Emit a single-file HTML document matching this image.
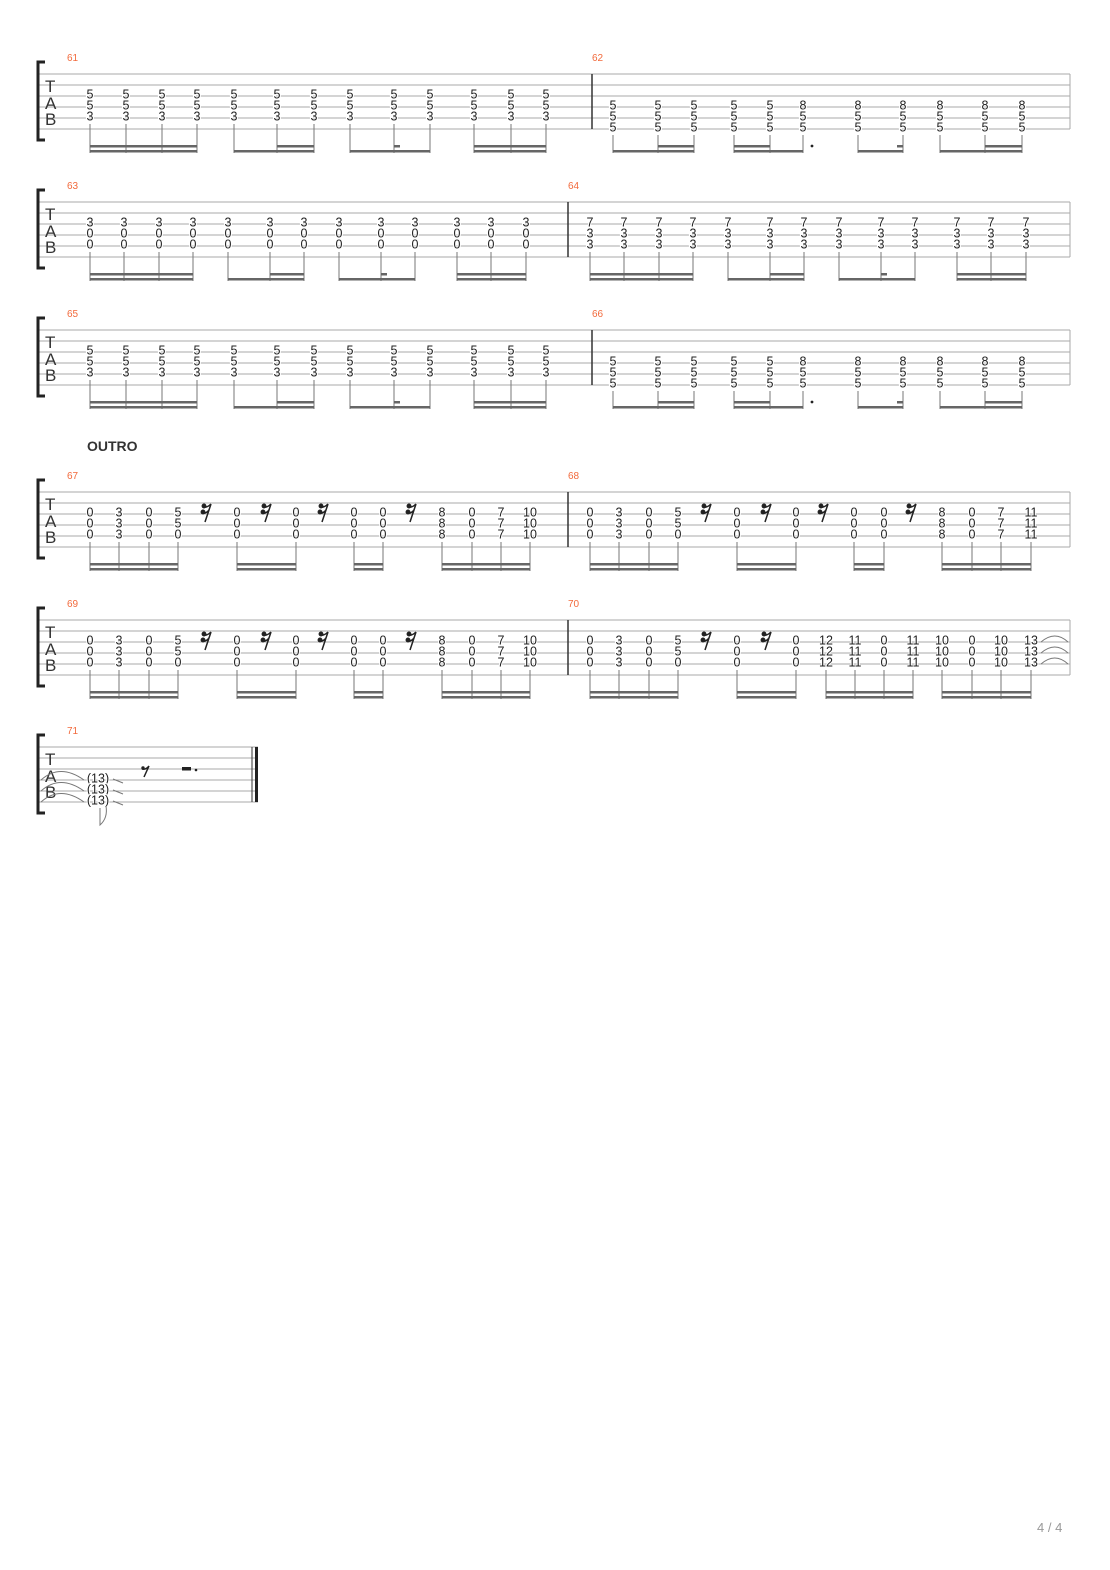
<!DOCTYPE html>
<html><head><meta charset="utf-8"><style>
body{margin:0;background:#fff}
svg{display:block}
.n{font-family:"Liberation Sans",sans-serif;font-size:12.5px;fill:#222;text-anchor:middle;paint-order:stroke;stroke:#fff;stroke-width:2px}
.m{font-family:"Liberation Sans",sans-serif;font-size:10px;fill:#f26a3c}
.tab{font-family:"Liberation Sans",sans-serif;font-size:17px;fill:#333}
.st{stroke:#aaa;stroke-width:1;fill:none}
.sm{stroke:#777;stroke-width:1;fill:none}
.b{fill:#666}
</style></head><body>
<svg width="1110" height="1570" viewBox="0 0 1110 1570" xmlns="http://www.w3.org/2000/svg">
<defs>
<g id="staff">
<path class="st" d="M38 74H1070M38 85H1070M38 96H1070M38 107H1070M38 118H1070M38 129H1070M38 74V129M1070 74V129"/>
<path d="M45 62H38V140H45" stroke="#222" stroke-width="3" fill="none"/>
</g>
</defs>

<!-- SYSTEM 1 -->
<g>
<use href="#staff"/>
<text class="tab" x="45" y="92">T</text><text class="tab" x="45" y="109">A</text><text class="tab" x="45" y="125">B</text>
<text class="m" x="67" y="61">61</text><text class="m" x="592" y="61">62</text>
<path d="M592 74V129" stroke="#333" stroke-width="1.5"/>
<text class="n" x="90 126 162 197 234 277 314 350 394 430 474 511 546" y="98.5">5555555555555</text>
<text class="n" x="90 126 162 197 234 277 314 350 394 430 474 511 546" y="109.5">5555555555555</text>
<text class="n" x="90 126 162 197 234 277 314 350 394 430 474 511 546" y="120.5">3333333333333</text>
<path class="sm" d="M90 124V153M126 124V153M162 124V153M197 124V153M234 124V153M277 124V153M314 124V153M350 124V153M394 124V153M430 124V153M474 124V153M511 124V153M546 124V153"/>
<rect class="b" x="90" y="150" width="107" height="2.5"/><rect class="b" x="90" y="145" width="107" height="2.5"/>
<rect class="b" x="234" y="150" width="80" height="2.5"/><rect class="b" x="277" y="145" width="37" height="2.5"/>
<rect class="b" x="350" y="150" width="80" height="2.5"/><rect class="b" x="394" y="145" width="6" height="2.5"/>
<rect class="b" x="474" y="150" width="72" height="2.5"/><rect class="b" x="474" y="145" width="72" height="2.5"/>
<text class="n" x="613 658 694 734 770 803 858 903 940 985 1022" y="109.5">55555888888</text>
<text class="n" x="613 658 694 734 770 803 858 903 940 985 1022" y="120.5">55555555555</text>
<text class="n" x="613 658 694 734 770 803 858 903 940 985 1022" y="131.5">55555555555</text>
<path class="sm" d="M613 135V153M658 135V153M694 135V153M734 135V153M770 135V153M803 135V153M858 135V153M903 135V153M940 135V153M985 135V153M1022 135V153"/>
<rect class="b" x="613" y="150" width="81" height="2.5"/><rect class="b" x="658" y="145" width="36" height="2.5"/>
<rect class="b" x="734" y="150" width="69" height="2.5"/><rect class="b" x="734" y="145" width="36" height="2.5"/>
<circle cx="812" cy="146" r="1.4" fill="#222"/>
<rect class="b" x="858" y="150" width="45" height="2.5"/><rect class="b" x="897" y="145" width="6" height="2.5"/>
<rect class="b" x="940" y="150" width="82" height="2.5"/><rect class="b" x="985" y="145" width="37" height="2.5"/>
</g>

<!-- SYSTEM 2 -->
<g transform="translate(0,128)">
<use href="#staff"/>
<text class="tab" x="45" y="92">T</text><text class="tab" x="45" y="109">A</text><text class="tab" x="45" y="125">B</text>
<text class="m" x="67" y="61">63</text><text class="m" x="568" y="61">64</text>
<path d="M568 74V129" stroke="#333" stroke-width="1.5"/>
<text class="n" x="90 124 159 193 228 270 304 339 381 415 457 491 526" y="98.5">3333333333333</text>
<text class="n" x="90 124 159 193 228 270 304 339 381 415 457 491 526" y="109.5">0000000000000</text>
<text class="n" x="90 124 159 193 228 270 304 339 381 415 457 491 526" y="120.5">0000000000000</text>
<path class="sm" d="M90 124V153M124 124V153M159 124V153M193 124V153M228 124V153M270 124V153M304 124V153M339 124V153M381 124V153M415 124V153M457 124V153M491 124V153M526 124V153"/>
<rect class="b" x="90" y="150" width="103" height="2.5"/><rect class="b" x="90" y="145" width="103" height="2.5"/>
<rect class="b" x="228" y="150" width="76" height="2.5"/><rect class="b" x="270" y="145" width="34" height="2.5"/>
<rect class="b" x="339" y="150" width="76" height="2.5"/><rect class="b" x="381" y="145" width="6" height="2.5"/>
<rect class="b" x="457" y="150" width="69" height="2.5"/><rect class="b" x="457" y="145" width="69" height="2.5"/>
<text class="n" x="590 624 659 693 728 770 804 839 881 915 957 991 1026" y="98.5">7777777777777</text>
<text class="n" x="590 624 659 693 728 770 804 839 881 915 957 991 1026" y="109.5">3333333333333</text>
<text class="n" x="590 624 659 693 728 770 804 839 881 915 957 991 1026" y="120.5">3333333333333</text>
<path class="sm" d="M590 124V153M624 124V153M659 124V153M693 124V153M728 124V153M770 124V153M804 124V153M839 124V153M881 124V153M915 124V153M957 124V153M991 124V153M1026 124V153"/>
<rect class="b" x="590" y="150" width="103" height="2.5"/><rect class="b" x="590" y="145" width="103" height="2.5"/>
<rect class="b" x="728" y="150" width="76" height="2.5"/><rect class="b" x="770" y="145" width="34" height="2.5"/>
<rect class="b" x="839" y="150" width="76" height="2.5"/><rect class="b" x="881" y="145" width="6" height="2.5"/>
<rect class="b" x="957" y="150" width="69" height="2.5"/><rect class="b" x="957" y="145" width="69" height="2.5"/>
</g>

<!-- SYSTEM 3 -->
<g transform="translate(0,256)">
<use href="#staff"/>
<text class="tab" x="45" y="92">T</text><text class="tab" x="45" y="109">A</text><text class="tab" x="45" y="125">B</text>
<text class="m" x="67" y="61">65</text><text class="m" x="592" y="61">66</text>
<path d="M592 74V129" stroke="#333" stroke-width="1.5"/>
<text class="n" x="90 126 162 197 234 277 314 350 394 430 474 511 546" y="98.5">5555555555555</text>
<text class="n" x="90 126 162 197 234 277 314 350 394 430 474 511 546" y="109.5">5555555555555</text>
<text class="n" x="90 126 162 197 234 277 314 350 394 430 474 511 546" y="120.5">3333333333333</text>
<path class="sm" d="M90 124V153M126 124V153M162 124V153M197 124V153M234 124V153M277 124V153M314 124V153M350 124V153M394 124V153M430 124V153M474 124V153M511 124V153M546 124V153"/>
<rect class="b" x="90" y="150" width="107" height="2.5"/><rect class="b" x="90" y="145" width="107" height="2.5"/>
<rect class="b" x="234" y="150" width="80" height="2.5"/><rect class="b" x="277" y="145" width="37" height="2.5"/>
<rect class="b" x="350" y="150" width="80" height="2.5"/><rect class="b" x="394" y="145" width="6" height="2.5"/>
<rect class="b" x="474" y="150" width="72" height="2.5"/><rect class="b" x="474" y="145" width="72" height="2.5"/>
<text class="n" x="613 658 694 734 770 803 858 903 940 985 1022" y="109.5">55555888888</text>
<text class="n" x="613 658 694 734 770 803 858 903 940 985 1022" y="120.5">55555555555</text>
<text class="n" x="613 658 694 734 770 803 858 903 940 985 1022" y="131.5">55555555555</text>
<path class="sm" d="M613 135V153M658 135V153M694 135V153M734 135V153M770 135V153M803 135V153M858 135V153M903 135V153M940 135V153M985 135V153M1022 135V153"/>
<rect class="b" x="613" y="150" width="81" height="2.5"/><rect class="b" x="658" y="145" width="36" height="2.5"/>
<rect class="b" x="734" y="150" width="69" height="2.5"/><rect class="b" x="734" y="145" width="36" height="2.5"/>
<circle cx="812" cy="146" r="1.4" fill="#222"/>
<rect class="b" x="858" y="150" width="45" height="2.5"/><rect class="b" x="897" y="145" width="6" height="2.5"/>
<rect class="b" x="940" y="150" width="82" height="2.5"/><rect class="b" x="985" y="145" width="37" height="2.5"/>
</g>

<text x="87" y="451" style="font-family:'Liberation Sans',sans-serif;font-size:14px;font-weight:bold;fill:#333">OUTRO</text>

<!-- SYSTEM 5 -->
<g transform="translate(0,418)">
<use href="#staff"/>
<text class="tab" x="45" y="92">T</text><text class="tab" x="45" y="109">A</text><text class="tab" x="45" y="125">B</text>
<text class="m" x="67" y="61">67</text><text class="m" x="568" y="61">68</text>
<path d="M568 74V129" stroke="#333" stroke-width="1.5"/>
<text class="n" x="90 119 149 178 237 296 354 383 442 472 501" y="98.5">03050000807</text>
<text class="n" x="530" y="98.5">10</text>
<text class="n" x="90 119 149 178 237 296 354 383 442 472 501" y="109.5">03050000807</text>
<text class="n" x="530" y="109.5">10</text>
<text class="n" x="90 119 149 178 237 296 354 383 442 472 501" y="120.5">03000000807</text>
<text class="n" x="530" y="120.5">10</text>
<text class="n" x="590 619 649 678 737 796 854 884 942 972 1001" y="98.5">03050000807</text>
<text class="n" x="1031" y="98.5">11</text>
<text class="n" x="590 619 649 678 737 796 854 884 942 972 1001" y="109.5">03050000807</text>
<text class="n" x="1031" y="109.5">11</text>
<text class="n" x="590 619 649 678 737 796 854 884 942 972 1001" y="120.5">03000000807</text>
<text class="n" x="1031" y="120.5">11</text>
<path class="sm" d="M90 124V153M119 124V153M149 124V153M178 124V153M237 124V153M296 124V153M354 124V153M383 124V153M442 124V153M472 124V153M501 124V153M530 124V153M590 124V153M619 124V153M649 124V153M678 124V153M737 124V153M796 124V153M854 124V153M884 124V153M942 124V153M972 124V153M1001 124V153M1031 124V153"/>
<g class="b">
<rect x="90" y="150" width="88" height="2.5"/><rect x="90" y="145" width="88" height="2.5"/>
<rect x="237" y="150" width="59" height="2.5"/><rect x="237" y="145" width="59" height="2.5"/>
<rect x="354" y="150" width="29" height="2.5"/><rect x="354" y="145" width="29" height="2.5"/>
<rect x="442" y="150" width="88" height="2.5"/><rect x="442" y="145" width="88" height="2.5"/>
<rect x="590" y="150" width="88" height="2.5"/><rect x="590" y="145" width="88" height="2.5"/>
<rect x="737" y="150" width="59" height="2.5"/><rect x="737" y="145" width="59" height="2.5"/>
<rect x="854" y="150" width="30" height="2.5"/><rect x="854" y="145" width="30" height="2.5"/>
<rect x="942" y="150" width="89" height="2.5"/><rect x="942" y="145" width="89" height="2.5"/>
</g>
<g stroke="#222" stroke-width="1.5" fill="#222">
<path d="M211 86L205 104M203 89Q207 90 211 86M202 95Q206 96 209 92" fill="none"/><circle cx="204" cy="88" r="1.7"/><circle cx="203" cy="94" r="1.7"/>
<path d="M271 86L265 104M263 89Q267 90 271 86M262 95Q266 96 269 92" fill="none"/><circle cx="264" cy="88" r="1.7"/><circle cx="263" cy="94" r="1.7"/>
<path d="M328 86L322 104M320 89Q324 90 328 86M319 95Q323 96 326 92" fill="none"/><circle cx="321" cy="88" r="1.7"/><circle cx="320" cy="94" r="1.7"/>
<path d="M416 86L410 104M408 89Q412 90 416 86M407 95Q411 96 414 92" fill="none"/><circle cx="409" cy="88" r="1.7"/><circle cx="408" cy="94" r="1.7"/>
<path d="M711 86L705 104M703 89Q707 90 711 86M702 95Q706 96 709 92" fill="none"/><circle cx="704" cy="88" r="1.7"/><circle cx="703" cy="94" r="1.7"/>
<path d="M771 86L765 104M763 89Q767 90 771 86M762 95Q766 96 769 92" fill="none"/><circle cx="764" cy="88" r="1.7"/><circle cx="763" cy="94" r="1.7"/>
<path d="M828 86L822 104M820 89Q824 90 828 86M819 95Q823 96 826 92" fill="none"/><circle cx="821" cy="88" r="1.7"/><circle cx="820" cy="94" r="1.7"/>
<path d="M916 86L910 104M908 89Q912 90 916 86M907 95Q911 96 914 92" fill="none"/><circle cx="909" cy="88" r="1.7"/><circle cx="908" cy="94" r="1.7"/>
</g>
</g>

<!-- SYSTEM 6 -->
<g transform="translate(0,546)">
<use href="#staff"/>
<text class="tab" x="45" y="92">T</text><text class="tab" x="45" y="109">A</text><text class="tab" x="45" y="125">B</text>
<text class="m" x="67" y="61">69</text><text class="m" x="568" y="61">70</text>
<path d="M568 74V129" stroke="#333" stroke-width="1.5"/>
<text class="n" x="90 119 149 178 237 296 354 383 442 472 501" y="98.5">03050000807</text>
<text class="n" x="530" y="98.5">10</text>
<text class="n" x="90 119 149 178 237 296 354 383 442 472 501" y="109.5">03050000807</text>
<text class="n" x="530" y="109.5">10</text>
<text class="n" x="90 119 149 178 237 296 354 383 442 472 501" y="120.5">03000000807</text>
<text class="n" x="530" y="120.5">10</text>
<text class="n" x="590 619 649 678 737 796 884 972" y="98.5">03050000</text>
<text class="n" x="590 619 649 678 737 796 884 972" y="109.5">03050000</text>
<text class="n" x="590 619 649 678 737 796 884 972" y="120.5">03000000</text>
<g class="n">
<text x="826" y="98.5">12</text><text x="855" y="98.5">11</text><text x="913" y="98.5">11</text><text x="942" y="98.5">10</text><text x="1001" y="98.5">10</text><text x="1031" y="98.5">13</text>
<text x="826" y="109.5">12</text><text x="855" y="109.5">11</text><text x="913" y="109.5">11</text><text x="942" y="109.5">10</text><text x="1001" y="109.5">10</text><text x="1031" y="109.5">13</text>
<text x="826" y="120.5">12</text><text x="855" y="120.5">11</text><text x="913" y="120.5">11</text><text x="942" y="120.5">10</text><text x="1001" y="120.5">10</text><text x="1031" y="120.5">13</text>
</g>
<path class="sm" d="M1041 96Q1055 84 1068 96M1041 107Q1055 95 1068 107M1041 118Q1055 106 1068 118" stroke="#333"/>
<path class="sm" d="M90 124V153M119 124V153M149 124V153M178 124V153M237 124V153M296 124V153M354 124V153M383 124V153M442 124V153M472 124V153M501 124V153M530 124V153M590 124V153M619 124V153M649 124V153M678 124V153M737 124V153M796 124V153M826 124V153M855 124V153M884 124V153M913 124V153M942 124V153M972 124V153M1001 124V153M1031 124V153"/>
<g class="b">
<rect x="90" y="150" width="88" height="2.5"/><rect x="90" y="145" width="88" height="2.5"/>
<rect x="237" y="150" width="59" height="2.5"/><rect x="237" y="145" width="59" height="2.5"/>
<rect x="354" y="150" width="29" height="2.5"/><rect x="354" y="145" width="29" height="2.5"/>
<rect x="442" y="150" width="88" height="2.5"/><rect x="442" y="145" width="88" height="2.5"/>
<rect x="590" y="150" width="88" height="2.5"/><rect x="590" y="145" width="88" height="2.5"/>
<rect x="737" y="150" width="59" height="2.5"/><rect x="737" y="145" width="59" height="2.5"/>
<rect x="826" y="150" width="87" height="2.5"/><rect x="826" y="145" width="87" height="2.5"/>
<rect x="942" y="150" width="89" height="2.5"/><rect x="942" y="145" width="89" height="2.5"/>
</g>
<g stroke="#222" stroke-width="1.5" fill="#222">
<path d="M211 86L205 104M203 89Q207 90 211 86M202 95Q206 96 209 92" fill="none"/><circle cx="204" cy="88" r="1.7"/><circle cx="203" cy="94" r="1.7"/>
<path d="M271 86L265 104M263 89Q267 90 271 86M262 95Q266 96 269 92" fill="none"/><circle cx="264" cy="88" r="1.7"/><circle cx="263" cy="94" r="1.7"/>
<path d="M328 86L322 104M320 89Q324 90 328 86M319 95Q323 96 326 92" fill="none"/><circle cx="321" cy="88" r="1.7"/><circle cx="320" cy="94" r="1.7"/>
<path d="M416 86L410 104M408 89Q412 90 416 86M407 95Q411 96 414 92" fill="none"/><circle cx="409" cy="88" r="1.7"/><circle cx="408" cy="94" r="1.7"/>
<path d="M711 86L705 104M703 89Q707 90 711 86M702 95Q706 96 709 92" fill="none"/><circle cx="704" cy="88" r="1.7"/><circle cx="703" cy="94" r="1.7"/>
<path d="M771 86L765 104M763 89Q767 90 771 86M762 95Q766 96 769 92" fill="none"/><circle cx="764" cy="88" r="1.7"/><circle cx="763" cy="94" r="1.7"/>
</g>
</g>

<!-- SYSTEM 7 -->
<g transform="translate(0,673)">
<path class="st" d="M38 74H258M38 85H258M38 96H258M38 107H258M38 118H258M38 129H258M38 74V129"/>
<path d="M45 62H38V140H45" stroke="#222" stroke-width="3" fill="none"/>
<text class="tab" x="45" y="92">T</text><text class="tab" x="45" y="109">A</text><text class="tab" x="45" y="125">B</text>
<text class="m" x="67" y="61">71</text>
<path d="M252 74V129" stroke="#333" stroke-width="1"/><path d="M256.5 74V129" stroke="#222" stroke-width="3"/>
<path class="sm" d="M41 107Q60 90 84 107M41 118Q60 101 84 118M41 129Q60 112 84 129" stroke="#333"/>
<text class="n" x="98" y="109.5">(13)</text><text class="n" x="98" y="120.5">(13)</text><text class="n" x="98" y="131.5">(13)</text>
<path class="sm" d="M113 106L123 110M113 117L123 121M113 128L123 132M106 133Q108 145 100 152V135" stroke="#444"/>
<path d="M149 93L144 104M142 96Q146 97 149 93" stroke="#222" stroke-width="1.5" fill="none"/><circle cx="143" cy="95" r="1.7" fill="#222"/>
<rect x="182" y="94" width="9" height="3.5" fill="#222"/><circle cx="196" cy="97" r="1.3" fill="#222"/>
</g>

<text x="1037" y="1532" style="font-family:'Liberation Sans',sans-serif;font-size:13px;fill:#999">4 / 4</text>
</svg>
</body></html>
